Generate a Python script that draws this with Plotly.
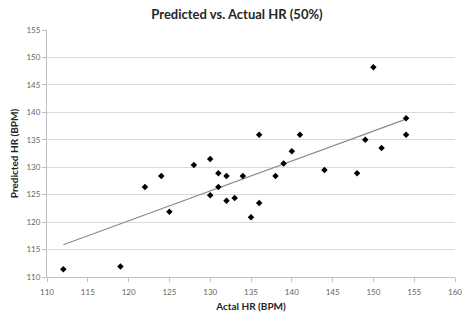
import numpy as np
import plotly.graph_objects as go

actual_hr = [112, 119, 122, 124, 125, 128, 130, 130, 131, 131, 132, 132, 133, 134, 135,
             136, 136, 138, 139, 140, 141, 144, 148, 149, 150, 151, 154, 154]
predicted_hr = [111.4, 111.9, 126.4, 128.4, 121.9, 130.4, 131.5, 124.9, 126.4, 128.9, 128.4, 123.9,
                124.4, 128.4, 120.9, 123.5, 135.9, 128.4, 130.7, 132.9, 135.9, 129.5, 128.9, 135.0,
                148.2, 133.5, 138.9, 135.9]

x_ticks = list(range(110, 161, 5))
y_ticks = list(range(110, 156, 5))

slope, intercept = np.polyfit(actual_hr, predicted_hr, 1)
trend_x = [min(actual_hr), max(actual_hr)]
trend_y = [slope * v + intercept for v in trend_x]

fig = go.Figure()
fig.add_trace(go.Scatter(x=trend_x, y=trend_y, mode="lines",
                         line=dict(color="#8c8c8c", width=1.2), hoverinfo="skip"))
fig.add_trace(go.Scatter(x=actual_hr, y=predicted_hr, mode="markers",
                         marker=dict(symbol="diamond", size=5, color="black")))

fig.update_layout(
    width=474, height=323,
    margin=dict(l=47, r=14, t=30, b=45),
    paper_bgcolor="white", plot_bgcolor="white",
    showlegend=False,
    font=dict(family="Lato, Open Sans, sans-serif", color="#595959"),
    title=dict(text="<b>Predicted vs. Actual HR (50%)</b>", x=0.5, xanchor="center",
               y=0.955, yanchor="middle", font=dict(size=13, color="#262626")),
)
fig.update_xaxes(range=[110, 160], tickvals=x_ticks, showgrid=False, zeroline=False,
                 showline=True, linecolor="#bfbfbf", linewidth=1,
                 ticks="outside", ticklen=4, tickcolor="#bfbfbf", ticklabelstandoff=3,
                 tickfont=dict(size=8, color="#666666"),
                 title=dict(text="<b>Actal HR (BPM)</b>", font=dict(size=10, color="#262626"), standoff=7))
fig.update_yaxes(range=[110, 155], tickvals=y_ticks, showgrid=True, gridcolor="#d9d9d9", gridwidth=1,
                 zeroline=False, showline=True, linecolor="#bfbfbf", linewidth=1,
                 ticks="outside", ticklen=4, tickcolor="#bfbfbf",
                 tickfont=dict(size=8, color="#666666"),
                 title=dict(text="<b>Predicted HR (BPM)</b>", font=dict(size=10, color="#262626"), standoff=5))

fig.write_html("out.html")
